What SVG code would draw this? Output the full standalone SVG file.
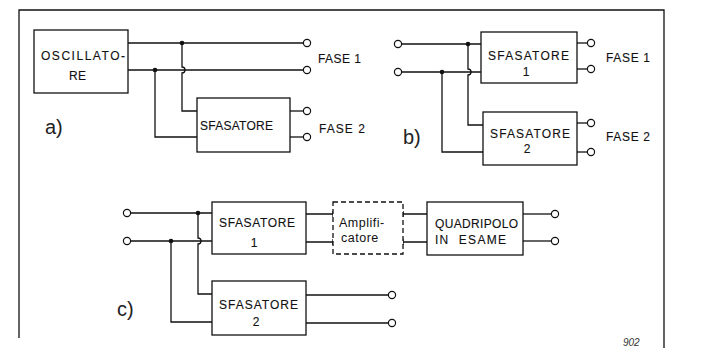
<svg xmlns="http://www.w3.org/2000/svg" width="709" height="348" viewBox="0 0 709 348">
<style>
.ln{fill:none;stroke:#111;stroke-width:1.3}
.bx{fill:#fff;stroke:#111;stroke-width:1.3}
.dbx{fill:#fff;stroke:#111;stroke-width:1.3;stroke-dasharray:5 3}
.t{font-family:"Liberation Sans",Arial,sans-serif;font-size:12px;fill:#111;stroke:#111;stroke-width:0.12}
.lab{font-family:"Liberation Sans",Arial,sans-serif;font-size:20px;fill:#222}
.amp{font-family:"Liberation Sans",Arial,sans-serif;font-size:12.5px;fill:#111;letter-spacing:0.5px}
.c{fill:#fff;stroke:#111;stroke-width:1.2}
.d{fill:#111}
</style>
<rect width="709" height="348" fill="#fff"/>
<g id="frame" class="ln">
<path d="M19,338 V10 H664 V348"/>
</g>
<g id="connectors" class="ln">
<path d="M128,43 H303"/>
<path d="M128,70 H303"/>
<path d="M182,43 V67 A3,3 0 0 1 182,73 V111 H197"/>
<path d="M155,70 V137 H197"/>
<path d="M290,111 H303"/>
<path d="M290,137 H303"/>
<path d="M402,44 H481"/>
<path d="M402,72 H481"/>
<path d="M468,44 V69 A3,3 0 0 1 468,75 V125 H483"/>
<path d="M442,72 V152 H483"/>
<path d="M577,43 H587"/>
<path d="M577,69 H587"/>
<path d="M577,123 H587"/>
<path d="M577,152 H587"/>
<path d="M131,213 H212"/>
<path d="M131,241 H212"/>
<path d="M198,213 V238 A3,3 0 0 1 198,244 V294 H212"/>
<path d="M171,241 V322 H212"/>
<path d="M306,214 H333 M333,211 V217"/>
<path d="M306,242 H333 M333,239 V245"/>
<path d="M403,211 V217 M403,214 H427"/>
<path d="M403,239 V245 M403,242 H427"/>
<path d="M523,214 H551"/>
<path d="M523,241 H551"/>
<path d="M306,295 H388"/>
<path d="M306,323 H388"/>
</g>
<g id="dots">
<circle class="d" cx="182" cy="43" r="2.3"/>
<circle class="d" cx="155" cy="70" r="2.3"/>
<circle class="d" cx="468" cy="44" r="2.3"/>
<circle class="d" cx="442" cy="72" r="2.3"/>
<circle class="d" cx="198" cy="213" r="2.3"/>
<circle class="d" cx="171" cy="241" r="2.3"/>
</g>
<g id="terminals">
<circle class="c" cx="307" cy="43" r="3.6"/>
<circle class="c" cx="307" cy="70" r="3.6"/>
<circle class="c" cx="307" cy="111" r="3.6"/>
<circle class="c" cx="307" cy="137" r="3.6"/>
<circle class="c" cx="398" cy="44" r="3.6"/>
<circle class="c" cx="398" cy="72" r="3.6"/>
<circle class="c" cx="591" cy="43" r="3.6"/>
<circle class="c" cx="591" cy="69" r="3.6"/>
<circle class="c" cx="591" cy="123" r="3.6"/>
<circle class="c" cx="591" cy="152" r="3.6"/>
<circle class="c" cx="127" cy="213" r="3.6"/>
<circle class="c" cx="127" cy="241" r="3.6"/>
<circle class="c" cx="555" cy="214" r="3.6"/>
<circle class="c" cx="555" cy="241" r="3.6"/>
<circle class="c" cx="392" cy="295" r="3.6"/>
<circle class="c" cx="392" cy="323" r="3.6"/>
</g>
<g id="oscillatore">
<rect class="bx" x="34" y="30" width="94" height="63"/>
<text class="t" x="41" y="60" textLength="84" lengthAdjust="spacing">OSCILLATO-</text>
<text class="t" x="69" y="80" textLength="17" lengthAdjust="spacing">RE</text>
</g>
<g id="sfasatore-a">
<rect class="bx" x="197" y="98" width="93" height="54"/>
<text class="t" x="200" y="130" textLength="73" lengthAdjust="spacing">SFASATORE</text>
</g>
<g id="labels-a">
<text class="t" x="318" y="63" textLength="43" lengthAdjust="spacing">FASE 1</text>
<text class="t" x="319" y="133" textLength="46" lengthAdjust="spacing">FASE 2</text>
<text class="lab" x="45" y="134">a)</text>
</g>
<g id="sfasatore1-b">
<rect class="bx" x="481" y="32" width="96" height="51"/>
<text class="t" x="488" y="60" textLength="81" lengthAdjust="spacing">SFASATORE</text>
<text class="t" x="526" y="76" text-anchor="middle">1</text>
</g>
<g id="sfasatore2-b">
<rect class="bx" x="483" y="112" width="94" height="53"/>
<text class="t" x="490" y="138" textLength="80" lengthAdjust="spacing">SFASATORE</text>
<text class="t" x="527" y="153" text-anchor="middle">2</text>
</g>
<g id="labels-b">
<text class="t" x="606" y="62" textLength="44" lengthAdjust="spacing">FASE 1</text>
<text class="t" x="606" y="141" textLength="44" lengthAdjust="spacing">FASE 2</text>
<text class="lab" x="403" y="144">b)</text>
</g>
<g id="sfasatore1-c">
<rect class="bx" x="212" y="202" width="94" height="52"/>
<text class="t" x="219" y="227" textLength="76" lengthAdjust="spacing">SFASATORE</text>
<text class="t" x="254" y="247" text-anchor="middle">1</text>
</g>
<g id="amplificatore">
<rect class="dbx" x="333" y="202" width="70" height="52"/>
<text class="amp" x="339" y="227">Amplifi-</text>
<text class="amp" x="341" y="242">catore</text>
</g>
<g id="quadripolo">
<rect class="bx" x="427" y="202" width="96" height="53"/>
<text class="t" x="435" y="228" textLength="83" lengthAdjust="spacing">QUADRIPOLO</text>
<text class="t" x="435" y="244" textLength="71" lengthAdjust="spacing" xml:space="preserve">IN  ESAME</text>
</g>
<g id="sfasatore2-c">
<rect class="bx" x="212" y="281" width="94" height="54"/>
<text class="t" x="219" y="309" textLength="79" lengthAdjust="spacing">SFASATORE</text>
<text class="t" x="256" y="326" text-anchor="middle">2</text>
</g>
<g id="labels-c">
<text class="lab" x="117" y="316">c)</text>
<text x="623" y="346" font-family="Liberation Sans, Arial, sans-serif" font-size="10" font-style="italic" fill="#333">902</text>
</g>
</svg>
